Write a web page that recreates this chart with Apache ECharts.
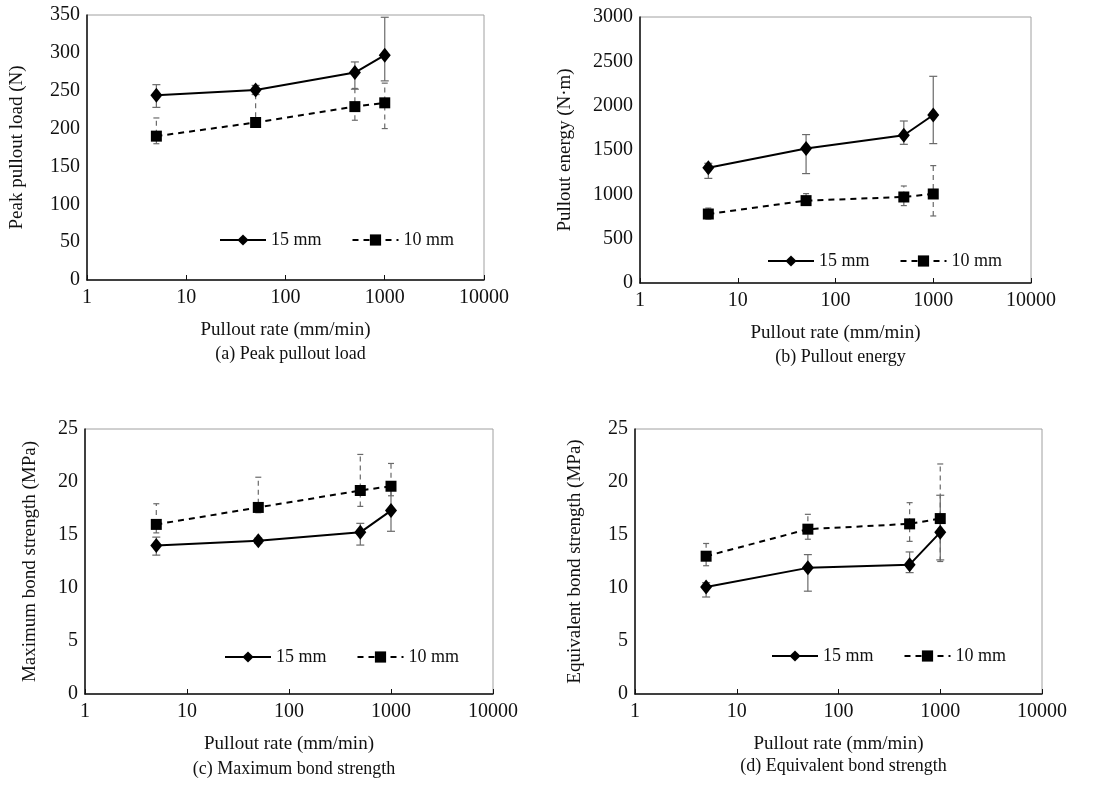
<!DOCTYPE html>
<html>
<head>
<meta charset="utf-8">
<script src="https://cdn.jsdelivr.net/npm/echarts@6/dist/echarts.min.js"></script>
<style>
html,body{margin:0;padding:0;background:#fff;}
#c{width:1108px;height:808px;}
</style>
</head>
<body>
<div id="c"></div>
<script>
// ---- data ----
const rates = [5, 50, 500, 1000];
const xTickLabels = ['1', '10', '100', '1000', '10000'];
const seriesNames = ['15 mm', '10 mm'];

const peakLoad15 = [244, 251, 274, 297];
const peakLoad15Lo = [228, 245, 252, 263];
const peakLoad15Hi = [258, 257, 288, 347];
const peakLoad10 = [190, 208, 229, 234];
const peakLoad10Lo = [180, 203, 211, 200];
const peakLoad10Hi = [214, 245, 253, 260];

const energy15 = [1300, 1516, 1666, 1895];
const energy15Lo = [1180, 1234, 1564, 1572];
const energy15Hi = [1350, 1674, 1827, 2331];
const energy10 = [778, 929, 970, 1004];
const energy10Lo = [720, 880, 873, 756];
const energy10Hi = [845, 1008, 1094, 1324];

const maxBond15 = [14.0, 14.45, 15.25, 17.3];
const maxBond15Lo = [13.1, 14.2, 14.05, 15.35];
const maxBond15Hi = [14.8, 14.7, 16.1, 19.4];
const maxBond10 = [16.0, 17.6, 19.2, 19.6];
const maxBond10Lo = [15.2, 17.1, 17.7, 18.7];
const maxBond10Hi = [17.95, 20.45, 22.6, 21.75];

const eqBond15 = [10.1, 11.9, 12.2, 15.25];
const eqBond15Lo = [9.15, 9.7, 11.45, 12.65];
const eqBond15Hi = [10.5, 13.15, 13.4, 18.75];
const eqBond10 = [13.0, 15.55, 16.05, 16.55];
const eqBond10Lo = [12.1, 14.6, 14.4, 12.5];
const eqBond10Hi = [14.2, 16.95, 18.05, 21.7];

const panels = [
  {caption: '(a) Peak pullout load', yName: 'Peak pullout load (N)', yMax: 350, yInt: 50,
   s15: peakLoad15, lo15: peakLoad15Lo, hi15: peakLoad15Hi, s10: peakLoad10, lo10: peakLoad10Lo, hi10: peakLoad10Hi},
  {caption: '(b) Pullout energy', yName: 'Pullout energy (N·m)', yMax: 3000, yInt: 500,
   s15: energy15, lo15: energy15Lo, hi15: energy15Hi, s10: energy10, lo10: energy10Lo, hi10: energy10Hi},
  {caption: '(c) Maximum bond strength', yName: 'Maximum bond strength (MPa)', yMax: 25, yInt: 5,
   s15: maxBond15, lo15: maxBond15Lo, hi15: maxBond15Hi, s10: maxBond10, lo10: maxBond10Lo, hi10: maxBond10Hi},
  {caption: '(d) Equivalent bond strength', yName: 'Equivalent bond strength (MPa)', yMax: 25, yInt: 5,
   s15: eqBond15, lo15: eqBond15Lo, hi15: eqBond15Hi, s10: eqBond10, lo10: eqBond10Lo, hi10: eqBond10Hi}
];

// ---- layout ----
const layout = [
  {left: 87, top: 15, width: 397, height: 265, nameGap: 60, capY: 340, legLeft: 219, legTop: 231},
  {left: 640, top: 17, width: 391, height: 266, nameGap: 65, capY: 343, legLeft: 767, legTop: 252},
  {left: 85, top: 429, width: 408, height: 265, nameGap: 45, capY: 755, legLeft: 224, legTop: 648},
  {left: 635, top: 429, width: 407, height: 265, nameGap: 50, capY: 752, legLeft: 771, legTop: 647}
];

const FONT = '"Liberation Serif", "Times New Roman", serif';
const chart = echarts.init(document.getElementById('c'));

const grids = [], xAxes = [], yAxes = [], series = [], titles = [], legends = [];

function errRender(dashed) {
  return function (params, api) {
    const x = api.value(0), lo = api.value(1), hi = api.value(2);
    const pLo = api.coord([x, lo]);
    const pHi = api.coord([x, hi]);
    const cap = dashed ? 3 : 4;
    const col = '#6a6a6a';
    return {
      type: 'group',
      children: [
        {type: 'line', shape: {x1: pLo[0], y1: pLo[1], x2: pHi[0], y2: pHi[1]},
         style: {stroke: col, lineWidth: 1.2, lineDash: dashed ? [5, 4] : null}},
        {type: 'line', shape: {x1: pLo[0] - cap, y1: pLo[1], x2: pLo[0] + cap, y2: pLo[1]}, style: {stroke: col, lineWidth: 1.2}},
        {type: 'line', shape: {x1: pHi[0] - cap, y1: pHi[1], x2: pHi[0] + cap, y2: pHi[1]}, style: {stroke: col, lineWidth: 1.2}}
      ]
    };
  };
}

panels.forEach((p, i) => {
  const L = layout[i];
  grids.push({left: L.left, top: L.top, width: L.width, height: L.height, show: true,
    borderColor: '#a0a0a0', borderWidth: 1, backgroundColor: 'transparent'});
  xAxes.push({
    type: 'log', logBase: 10, min: 1, max: 10000, gridIndex: i,
    name: 'Pullout rate (mm/min)', nameLocation: 'middle', nameGap: 41,
    nameTextStyle: {fontFamily: FONT, fontSize: 19, color: '#111'},
    axisLine: {show: true, lineStyle: {color: '#111', width: 1.5}},
    axisTick: {show: true, inside: true, length: 5, lineStyle: {color: '#111'}},
    minorTick: {show: false},
    splitLine: {show: false},
    axisLabel: {fontFamily: FONT, fontSize: 20, color: '#111', margin: 8,
      formatter: v => xTickLabels[Math.round(Math.log10(v))]}
  });
  yAxes.push({
    type: 'value', min: 0, max: p.yMax, interval: p.yInt, gridIndex: i,
    name: p.yName, nameLocation: 'middle', nameGap: L.nameGap, nameRotate: 90,
    nameTextStyle: {fontFamily: FONT, fontSize: 19, color: '#111'},
    axisLine: {show: true, lineStyle: {color: '#111', width: 1.5}},
    axisTick: {show: false},
    splitLine: {show: false},
    axisLabel: {fontFamily: FONT, fontSize: 20, color: '#111', margin: 7,
      formatter: v => String(v)}
  });
  const err15 = rates.map((r, k) => [r, p.lo15[k], p.hi15[k]]);
  const err10 = rates.map((r, k) => [r, p.lo10[k], p.hi10[k]]);
  series.push({
    type: 'custom', xAxisIndex: i, yAxisIndex: i, renderItem: errRender(true),
    data: err10, silent: true, z: 1
  });
  series.push({
    type: 'custom', xAxisIndex: i, yAxisIndex: i, renderItem: errRender(false),
    data: err15, silent: true, z: 1
  });
  series.push({
    name: seriesNames[1], type: 'line', xAxisIndex: i, yAxisIndex: i,
    data: rates.map((r, k) => [r, p.s10[k]]),
    symbol: 'rect', symbolSize: 11,
    lineStyle: {color: '#000', width: 2, type: [6, 5]},
    itemStyle: {color: '#000'}, z: 3
  });
  series.push({
    name: seriesNames[0], type: 'line', xAxisIndex: i, yAxisIndex: i,
    data: rates.map((r, k) => [r, p.s15[k]]),
    symbol: 'diamond', symbolSize: [12, 15],
    lineStyle: {color: '#000', width: 2},
    itemStyle: {color: '#000'}, z: 3
  });
  titles.push({
    text: p.caption, left: L.left + L.width / 2, top: L.capY, textAlign: 'center',
    textStyle: {fontFamily: FONT, fontSize: 18, fontWeight: 'normal', color: '#111'}
  });
  legends.push({
    data: seriesNames, left: L.legLeft, top: L.legTop, padding: 0,
    itemWidth: 46, itemHeight: 14, itemGap: 30, orient: 'horizontal',
    textStyle: {fontFamily: FONT, fontSize: 18, color: '#111'},
    selectedMode: false
  });
});

chart.setOption({
  animation: false,
  backgroundColor: '#fff',
  title: titles,
  legend: legends,
  grid: grids,
  xAxis: xAxes,
  yAxis: yAxes,
  series: series
});
</script>
</body>
</html>
